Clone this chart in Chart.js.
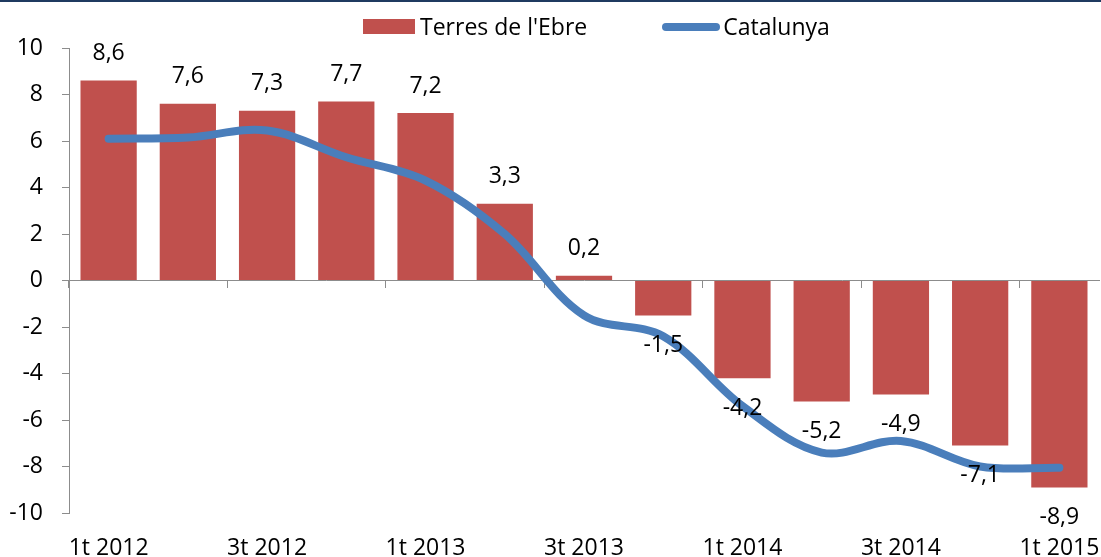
<!DOCTYPE html>
<html>
<head>
<meta charset="utf-8">
<script src="https://cdn.jsdelivr.net/npm/chart.js@4.4.0/dist/chart.umd.min.js"></script>
<style>
html, body { margin: 0; padding: 0; background: #fff; }
#frame { position: relative; width: 1101px; height: 555px; border-top: 2px solid #1f3a60; }
#legend { position: absolute; top: 9px; left: 363px; display: flex; align-items: center;
          font: 23px 'Open Sans'; line-height: 31px; color: #000; white-space: nowrap; }
#legend .item { display: flex; align-items: center; }
#legend .item + .item { margin-left: 75px; }
</style>
</head>
<body>
<div id="frame">
  <canvas id="chart"></canvas>
  <div id="legend"></div>
</div>
<script>
var quarters = ['1t 2012', '2t 2012', '3t 2012', '4t 2012', '1t 2013', '2t 2013', '3t 2013',
                '4t 2013', '1t 2014', '2t 2014', '3t 2014', '4t 2014', '1t 2015'];
var terresEbre = [8.6, 7.6, 7.3, 7.7, 7.2, 3.3, 0.2, -1.5, -4.2, -5.2, -4.9, -7.1, -8.9];
var catalunya = [6.1, 6.15, 6.45, 5.3, 4.3, 2.0, -1.5, -2.4, -5.4, -7.4, -6.9, -8.0, -8.05];
var yMin = -10, yMax = 10, yStep = 2;

var axisGrey = '#8c8c8c';
Chart.defaults.font.family = "'Open Sans'";
Chart.defaults.font.size = 23;
Chart.defaults.color = '#000';

// value labels above / below each bar, decimal comma
var barLabels = {
    id: 'barLabels',
    afterDatasetsDraw: function (chart) {
        var ctx = chart.ctx;
        var meta = chart.getDatasetMeta(1);
        ctx.save();
        ctx.font = "23px 'Open Sans'";
        ctx.fillStyle = '#000';
        ctx.textAlign = 'center';
        ctx.textBaseline = 'middle';
        meta.data.forEach(function (bar, i) {
            var v = terresEbre[i];
            var y = v >= 0 ? bar.y - 27 : bar.y + 30;
            ctx.fillText(String(v).replace('.', ','), bar.x, y);
        });
        ctx.restore();
    }
};

var chart = new Chart(document.getElementById('chart'), {
    data: {
        labels: quarters,
        datasets: [{
            type: 'line',
            label: 'Catalunya',
            data: catalunya,
            borderColor: '#4a7ebb',
            backgroundColor: '#4a7ebb',
            borderWidth: 8,
            borderCapStyle: 'round',
            pointRadius: 0,
            tension: 0.35,
            order: 0
        }, {
            type: 'bar',
            label: "Terres de l'Ebre",
            data: terresEbre,
            backgroundColor: '#c0504d',
            categoryPercentage: 1,
            barPercentage: 0.71,
            order: 1
        }]
    },
    options: {
        responsive: true,
        maintainAspectRatio: false,
        animation: false,
        layout: { padding: { left: 9, right: 2, top: 46, bottom: 0 } },
        plugins: { legend: { display: false }, tooltip: { enabled: false } },
        scales: {
            x: {
                offset: true,
                grid: { display: false, drawTicks: false },
                border: { display: false },
                ticks: {
                    autoSkip: false,
                    maxRotation: 0,
                    padding: 24,
                    font: { lineHeight: 1 },
                    callback: function (v, i) { return i % 2 === 0 ? quarters[i] : ''; }
                },
                afterFit: function (scale) {
                    scale.paddingLeft = 0;
                    scale.paddingRight = 0;
                    scale.height = 44;
                }
            },
            x2: {
                type: 'category',
                axis: 'x',
                position: { y: 0 },
                offset: true,
                ticks: { display: false, autoSkip: false },
                grid: {
                    offset: true,
                    drawOnChartArea: false,
                    drawTicks: true,
                    tickLength: 7,
                    color: function (c) { return c.index % 2 === 0 ? axisGrey : 'rgba(0,0,0,0)'; }
                },
                border: { display: true, color: axisGrey, width: 1 },
                afterFit: function (scale) {
                    scale.paddingLeft = 0;
                    scale.paddingRight = 0;
                }
            },
            y: {
                min: yMin,
                max: yMax,
                ticks: {
                    stepSize: yStep,
                    padding: 19,
                    callback: function (v) { return String(v); }
                },
                grid: { drawOnChartArea: false, drawTicks: true, tickLength: 7, color: axisGrey },
                border: { display: true, color: axisGrey, width: 1 },
                afterFit: function (scale) {
                    scale.width = 60;
                }
            }
        }
    },
    plugins: [barLabels]
});

// legend built from the datasets, bar first
var legend = document.getElementById('legend');
[1, 0].forEach(function (k) {
    var ds = chart.data.datasets[k];
    var item = document.createElement('div');
    item.className = 'item';
    var sw = document.createElement('span');
    if (ds.type === 'bar') {
        sw.style.cssText = 'display:inline-block;width:52px;height:15px;margin-right:5px;background:' + ds.backgroundColor;
    } else {
        sw.style.cssText = 'display:inline-block;width:58px;height:8px;border-radius:4px;margin-right:3px;background:' + ds.borderColor;
    }
    var tx = document.createElement('span');
    tx.textContent = ds.label;
    item.appendChild(sw);
    item.appendChild(tx);
    legend.appendChild(item);
});
</script>
</body>
</html>
